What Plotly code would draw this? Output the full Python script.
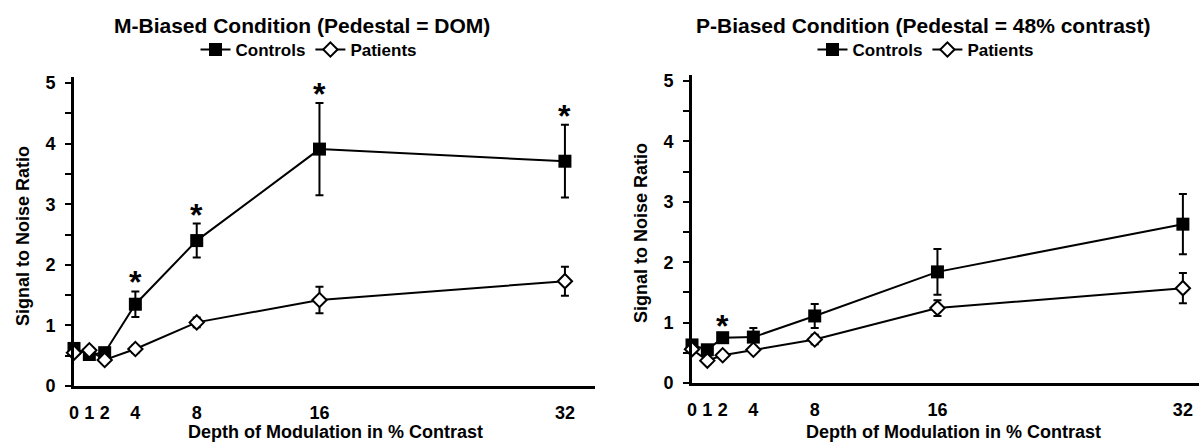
import plotly.graph_objects as go

W, H = 1199, 443

depth = [0, 1, 2, 4, 8, 16, 32]
tick_labels = ["0", "1", "2", "4", "8", "16", "32"]

# M-Biased condition
m_controls = [0.62, 0.52, 0.55, 1.35, 2.40, 3.91, 3.71]
m_controls_err = [0.06, 0.05, 0.06, 0.21, 0.28, 0.76, 0.60]
m_patients = [0.55, 0.59, 0.43, 0.61, 1.05, 1.42, 1.73]
m_patients_err = [0.05, 0.05, 0.05, 0.06, 0.08, 0.22, 0.24]
m_star_x = [4, 8, 16, 32]

# P-Biased condition
p_controls = [0.63, 0.55, 0.75, 0.76, 1.11, 1.84, 2.63]
p_controls_err = [0.06, 0.05, 0.05, 0.15, 0.20, 0.38, 0.50]
p_patients = [0.56, 0.37, 0.46, 0.55, 0.72, 1.24, 1.57]
p_patients_err = [0.05, 0.05, 0.05, 0.05, 0.08, 0.13, 0.25]
p_star_x = [2]

FONT = "Arial, Liberation Sans, sans-serif"

def px(x):
    return x / W

def py(y):
    return 1 - y / H

fig = go.Figure()

def add_pair(xa, ya, legend, c, ce, p, pe):
    fig.add_trace(go.Scatter(
        x=depth, y=c, name="Controls", mode="lines+markers",
        xaxis=xa, yaxis=ya, legend=legend, cliponaxis=False,
        line=dict(color="black", width=2),
        marker=dict(symbol="square", size=13, color="black"),
        error_y=dict(type="data", array=ce, visible=True, color="black",
                     thickness=2, width=4),
    ))
    fig.add_trace(go.Scatter(
        x=depth, y=p, name="Patients", mode="lines+markers",
        xaxis=xa, yaxis=ya, legend=legend, cliponaxis=False,
        line=dict(color="black", width=2),
        marker=dict(symbol="diamond", size=11, color="white",
                    line=dict(color="black", width=2)),
        error_y=dict(type="data", array=pe, visible=True, color="black",
                     thickness=2, width=4),
    ))

add_pair("x", "y", "legend", m_controls, m_controls_err, m_patients, m_patients_err)
add_pair("x2", "y2", "legend2", p_controls, p_controls_err, p_patients, p_patients_err)

axis_font = dict(family=FONT, size=18, color="black", weight="bold")

xcommon = dict(
    tickmode="array", tickvals=depth, ticktext=tick_labels,
    showline=True, linecolor="black", linewidth=3,
    ticks="", showgrid=False, zeroline=False, automargin=False,
    tickfont=axis_font, ticklabelstandoff=8,
)
ycommon = dict(
    range=[0, 5.1], tickmode="array", tickvals=[0, 1, 2, 3, 4, 5],
    showline=True, linecolor="black", linewidth=3,
    ticks="outside", ticklen=6, tickwidth=2, tickcolor="black",
    minor=dict(tickvals=[0.5, 1.5, 2.5, 3.5, 4.5], ticks="outside",
               ticklen=6, tickwidth=2, tickcolor="black"),
    showgrid=False, zeroline=False, automargin=False,
    tickfont=axis_font, ticklabelstandoff=6,
)

fig.update_layout(
    template="none",
    width=W, height=H,
    margin=dict(l=0, r=0, t=0, b=0, pad=0, autoexpand=False),
    paper_bgcolor="white", plot_bgcolor="white",
    font=dict(family=FONT, color="black"),
    xaxis=dict(domain=[px(74), px(595)], range=[0, 33.96], anchor="y", **xcommon),
    yaxis=dict(domain=[py(386), py(77)], anchor="x", **ycommon),
    xaxis2=dict(domain=[px(692), 1.0], range=[0, 33.05], anchor="y2", **xcommon),
    yaxis2=dict(domain=[py(383), py(75)], anchor="x2", **ycommon),
    legend=dict(orientation="h", x=px(309), y=py(50), xanchor="center", yanchor="middle",
                font=dict(family=FONT, size=17, color="black", weight="bold"),
                itemwidth=30, traceorder="normal", bgcolor="rgba(0,0,0,0)"),
    legend2=dict(orientation="h", x=px(926), y=py(50), xanchor="center", yanchor="middle",
                 font=dict(family=FONT, size=17, color="black", weight="bold"),
                 itemwidth=30, traceorder="normal", bgcolor="rgba(0,0,0,0)"),
    showlegend=True,
)

anns = []
anns.append(dict(text="<b>M-Biased Condition (Pedestal = DOM)</b>", x=px(302), y=py(25),
                 xref="paper", yref="paper", showarrow=False, xanchor="center", yanchor="middle",
                 font=dict(family=FONT, size=21, color="black")))
anns.append(dict(text="<b>P-Biased Condition (Pedestal = 48% contrast)</b>", x=px(923), y=py(25),
                 xref="paper", yref="paper", showarrow=False, xanchor="center", yanchor="middle",
                 font=dict(family=FONT, size=21, color="black")))
for xc, yc in [(23, 236), (641, 233)]:
    anns.append(dict(text="<b>Signal to Noise Ratio</b>", x=px(xc), y=py(yc), textangle=-90,
                     xref="paper", yref="paper", showarrow=False, xanchor="center", yanchor="middle",
                     font=dict(family=FONT, size=18, color="black")))
for xc in [335.5, 953.5]:
    anns.append(dict(text="<b>Depth of Modulation in % Contrast</b>", x=px(xc), y=py(432),
                     xref="paper", yref="paper", showarrow=False, xanchor="center", yanchor="middle",
                     font=dict(family=FONT, size=18, color="black")))

def add_stars(star_x, vals, errs, xr, yr):
    for sx in star_x:
        i = depth.index(sx)
        anns.append(dict(text="<b>*</b>", x=sx, y=vals[i] + errs[i], xref=xr, yref=yr,
                         showarrow=False, xanchor="center", yanchor="middle", yshift=9,
                         font=dict(family=FONT, size=32, color="black")))

add_stars(m_star_x, m_controls, m_controls_err, "x", "y")
add_stars(p_star_x, p_controls, p_controls_err, "x2", "y2")

fig.update_layout(annotations=anns)

fig.write_html("out.html")
